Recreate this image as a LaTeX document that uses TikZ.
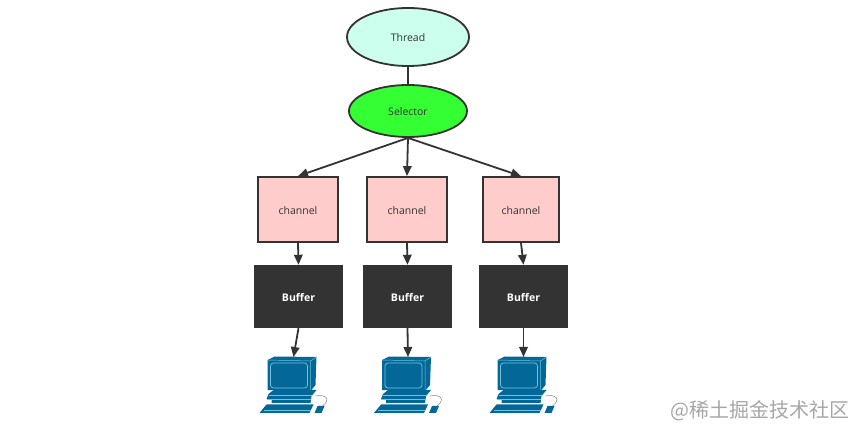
\documentclass[tikz,border=0pt]{standalone}
\usepackage{fontspec}
\setmainfont{Open Sans}
\newfontfamily\cjkfont{Noto Sans CJK SC}
\usetikzlibrary{positioning,shapes.geometric,arrows.meta}
\definecolor{pcblue}{HTML}{036897}
\definecolor{pcline}{HTML}{6FC3DE}
\definecolor{inkdark}{HTML}{333333}
\definecolor{channelpink}{HTML}{FFCCCC}
\tikzset{
    round/.style={ellipse,draw=inkdark,line width=1.8pt,inner sep=0pt,text=inkdark,text height=9.5pt,text depth=0pt,font=\fontsize{10.5}{12}\selectfont},
    chan/.style={rectangle,draw=inkdark,line width=1.8pt,fill=channelpink,minimum height=65pt,text=inkdark,text height=9.5pt,text depth=0pt,font=\fontsize{10.5}{12}\selectfont},
    buff/.style={rectangle,fill=inkdark,minimum width=89pt,minimum height=63pt,text=white,text height=9.5pt,text depth=0pt,font=\fontsize{10.5}{12}\selectfont\bfseries},
    link/.style={draw=inkdark,line width=1.8pt},
    flow/.style={link,-{Triangle[length=10pt,width=8.5pt]}},
    computer/.pic={
        \coordinate (-top) at (0,0);
        \fill[pcblue] (-26,3) -- (-19,-0.5) -- (23,0) -- (22,28) -- (17,34) -- (-26,33) -- cycle;
        \draw[pcline,line width=0.5pt] (-26,3) -- (17,4) -- (23,0) (17,4) -- (17,34);
        \draw[pcline,line width=0.7pt,rounded corners=3pt] (-23,6) rectangle (14,31);
        \fill[pcblue] (-25,37) -- (-20,33) -- (23,33) -- (18,39) -- (17,46) -- (-22,46) -- (-22,42) -- (-27,42) -- cycle;
        \draw[pcline,line width=0.4pt] (-25,38) -- (18,38) (-27,42) -- (17,42);
        \fill[pcblue] (-27,47.5) -- (20,47.5) -- (16,56) -- (-34,56) -- cycle;
        \draw[pcline,line width=0.4pt] (-30,53.5) -- (17,53.5);
        \fill[pcblue] (24,49) -- (31,49) -- (28,56) -- (21,56) -- cycle;
        \draw[gray,line width=0.5pt] (22,39) .. controls (32,37) and (38,42) .. (29,49);
    }
}
\begin{document}
\begin{tikzpicture}[x=1pt,y=-1pt]
    \useasboundingbox (0,0) rectangle (857,427);
    \node[round,fill={rgb,255:red,204;green,255;blue,238},minimum width=122pt,minimum height=58pt] (thread) at (408,37) {Thread};
    \node[round,fill={rgb,255:red,51;green,255;blue,51},minimum width=118pt,minimum height=52pt] (selector) at (408,111) {Selector};
    % channels
    \node[chan,minimum width=80pt] (chanA) at (298,209.5) {channel};
    \node[chan,minimum width=80pt] (chanB) at (407,209.5) {channel};
    \node[chan,minimum width=76pt] (chanC) at (521,209.5) {channel};
    % buffers
    \node[buff] (bufA) at (298.5,296.5) {Buffer};
    \node[buff] (bufB) at (407.5,296.5) {Buffer};
    \node[buff] (bufC) at (523.5,296.5) {Buffer};
    % computers
    \pic (pcA) at (293.5,357) {computer};
    \pic (pcB) at (408,357) {computer};
    \pic (pcC) at (523.5,357) {computer};
    \draw[link] (thread.south) -- (selector.north);
    \draw[flow] (selector.south) -- (chanA.north);
    \draw[flow] (selector.south) -- (chanB.north);
    \draw[flow] (selector.south) -- (chanC.north);
    \draw[flow] (chanA.south) -- (bufA.north);
    \draw[flow] (chanB.south) -- (bufB.north);
    \draw[flow] (chanC.south) -- (bufC.north);
    \draw[flow] (bufA.south) -- (pcA-top);
    \draw[flow] (bufB.south) -- (pcB-top);
    \draw[flow] (bufC.south) -- (pcC-top);
    \node[text=black!35,font=\fontsize{20}{22}\selectfont\cjkfont,inner sep=0pt,anchor=east] (mark) at (850,410.5) {@稀土掘金技术社区};
\end{tikzpicture}
\end{document}
